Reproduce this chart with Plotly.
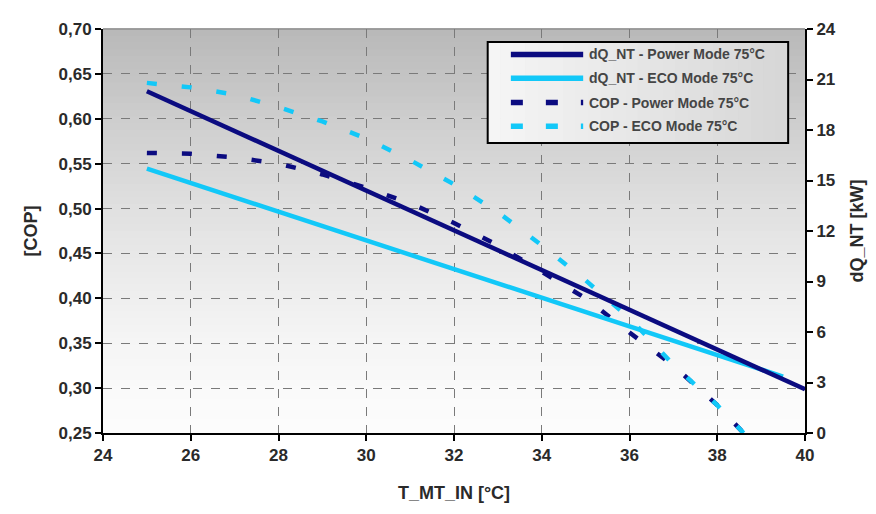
import plotly.graph_objects as go

# ---- data ----
t_dq_power = [25, 40]
dq_power = [20.3, 2.6]

t_dq_eco = [25, 39.5]
dq_eco = [15.7, 3.35]

t_cop = [25, 26, 27, 28, 29, 30, 31, 32, 33, 34, 35, 36, 37, 38, 38.6]
cop_power = [0.562, 0.561, 0.557, 0.550, 0.538, 0.523, 0.506, 0.484, 0.459,
             0.430, 0.400, 0.362, 0.325, 0.281, 0.25]
cop_eco = [0.640, 0.635, 0.627, 0.613, 0.597, 0.578, 0.554, 0.527, 0.496,
           0.459, 0.420, 0.378, 0.326, 0.281, 0.25]

names = ["dQ_NT - Power Mode 75°C", "dQ_NT - ECO Mode 75°C",
         "COP - Power Mode 75°C", "COP - ECO Mode 75°C"]

x_ticks = [24, 26, 28, 30, 32, 34, 36, 38, 40]
cop_ticks = [0.25, 0.30, 0.35, 0.40, 0.45, 0.50, 0.55, 0.60, 0.65, 0.70]
dq_ticks = [0, 3, 6, 9, 12, 15, 18, 21, 24]

DARK = "#0b0b80"
LIGHT = "#12c8f8"
FONT = "Liberation Sans"
DASH = "10px,25px"

fig = go.Figure()
fig.add_trace(go.Scatter(x=t_cop, y=cop_power, name=names[2], mode="lines",
                         line=dict(color=DARK, width=4.5, dash=DASH), yaxis="y"))
fig.add_trace(go.Scatter(x=t_cop, y=cop_eco, name=names[3], mode="lines",
                         line=dict(color=LIGHT, width=4.5, dash=DASH), yaxis="y"))
fig.add_trace(go.Scatter(x=t_dq_eco, y=dq_eco, name=names[1], mode="lines",
                         line=dict(color=LIGHT, width=4.5), yaxis="y2"))
fig.add_trace(go.Scatter(x=t_dq_power, y=dq_power, name=names[0], mode="lines",
                         line=dict(color=DARK, width=4.5), yaxis="y2"))

# vertical gradient background (gray at top -> white at bottom)
shapes = []
n = 60
for i in range(n):
    t = (i + 0.5) / n  # fraction from bottom
    c = int(round(252 - 68 * t ** 1.5))
    shapes.append(dict(type="rect", xref="x domain", yref="y domain",
                       x0=0, x1=1, y0=i / n, y1=(i + 1) / n + 0.002,
                       fillcolor=f"rgb({c},{c},{c})", line=dict(width=0),
                       layer="below"))
shapes.append(dict(type="line", xref="x domain", yref="y domain", x0=0, x1=1,
                   y0=1, y1=1, line=dict(color="#909090", width=1.5), layer="below"))

# custom legend box (horizontal light gradient, black frame)
lx0, lx1, ly0, ly1 = 0.548, 0.976, 0.718, 0.968
m = 24
for i in range(m):
    f = (i + 0.5) / m
    c = int(round(246 - 32 * f))
    shapes.append(dict(type="rect", xref="x domain", yref="y domain",
                       x0=lx0 + (lx1 - lx0) * i / m,
                       x1=lx0 + (lx1 - lx0) * (i + 1) / m + 0.001,
                       y0=ly0, y1=ly1, fillcolor=f"rgb({c},{c},{c})",
                       line=dict(width=0), layer="above"))
shapes.append(dict(type="rect", xref="x domain", yref="y domain",
                   x0=lx0, x1=lx1, y0=ly0, y1=ly1,
                   line=dict(color="black", width=2), layer="above"))

entry_y = [0.937, 0.878, 0.818, 0.759]
entry_style = [(DARK, None), (LIGHT, None), (DARK, "12px,23px"), (LIGHT, "12px,23px")]
annotations = []
for yy, (col, dash), label in zip(entry_y, entry_style, names):
    ln = dict(color=col, width=5.5)
    if dash:
        ln["dash"] = dash
    shapes.append(dict(type="line", xref="x domain", yref="y domain",
                       x0=0.581, x1=0.684, y0=yy, y1=yy, line=ln, layer="above"))
    annotations.append(dict(xref="x domain", yref="y domain", x=0.690, y=yy,
                            xanchor="left", yanchor="middle", text=label,
                            showarrow=False,
                            font=dict(family=FONT, size=14, color="#454545",
                                      weight="bold")))

tickfont = dict(family=FONT, size=17, color="#2a2a2a", weight="bold")
titlefont = dict(family=FONT, size=18, color="#2a2a2a", weight="bold")

fig.update_layout(
    width=876, height=514,
    margin=dict(l=95, r=79, t=14, b=89),
    paper_bgcolor="white",
    plot_bgcolor="white",
    separators=",.",
    shapes=shapes,
    annotations=annotations,
    showlegend=False,
    xaxis=dict(range=[24, 40], tickvals=x_ticks, showgrid=True,
               gridcolor="#7a7a7a", griddash="dash", gridwidth=1,
               showline=True, linecolor="black", linewidth=2,
               ticks="outside", ticklen=6, tickcolor="black", tickwidth=1.5,
               tickfont=tickfont, zeroline=False,
               title=dict(text="T_MT_IN [°C]", font=titlefont, standoff=22)),
    yaxis=dict(range=[0.25, 0.70], tickvals=cop_ticks, tickformat=".2f",
               showgrid=True, gridcolor="#7a7a7a", griddash="dash", gridwidth=1,
               showline=True, linecolor="black", linewidth=2,
               ticks="outside", ticklen=6, tickcolor="black", tickwidth=1.5,
               tickfont=tickfont, zeroline=False,
               title=dict(text="[COP]", font=titlefont, standoff=16)),
    yaxis2=dict(range=[0, 24], tickvals=dq_ticks, overlaying="y", side="right",
                showgrid=False, showline=True, linecolor="black", linewidth=2,
                ticks="outside", ticklen=6, tickcolor="black", tickwidth=1.5,
                tickfont=tickfont, zeroline=False,
                title=dict(text="dQ_NT [kW]", font=titlefont, standoff=16)),
)

fig.write_html("out.html")
